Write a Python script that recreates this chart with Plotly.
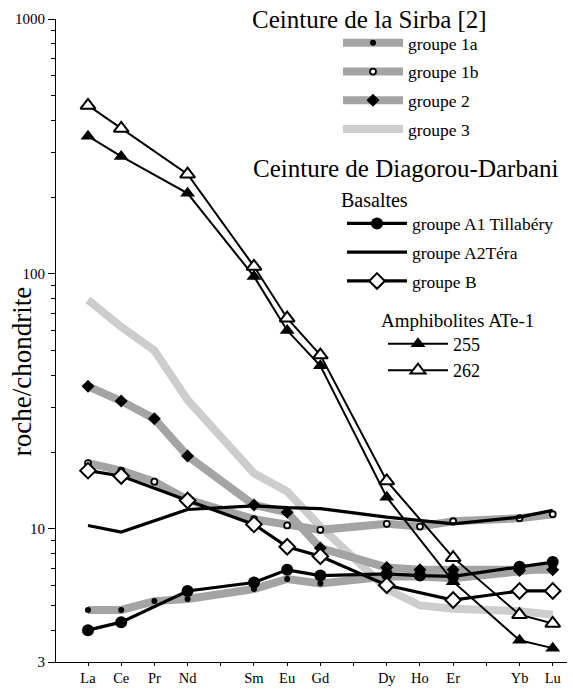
import math
import plotly.graph_objects as go

# ---------------- data ----------------
elements = ["La", "Ce", "Pr", "Nd", "Pm", "Sm", "Eu", "Gd", "Tb", "Dy", "Ho", "Er", "Tm", "Yb", "Lu"]
tick_labels = ["La", "Ce", "Pr", "Nd", "", "Sm", "Eu", "Gd", "", "Dy", "Ho", "Er", "", "Yb", "Lu"]

# Ceinture de la Sirba [2]
g1a_el = ["La", "Ce", "Pr", "Nd", "Sm", "Eu", "Gd", "Dy", "Ho", "Er", "Yb", "Lu"]
g1a_val = [4.8, 4.8, 5.2, 5.3, 5.8, 6.35, 6.1, 6.5, 6.5, 6.4, 6.8, 7.1]

g1b_el = ["La", "Ce", "Pr", "Nd", "Sm", "Eu", "Gd", "Dy", "Ho", "Er", "Yb", "Lu"]
g1b_val = [18.1, 16.9, 15.3, 13.0, 10.9, 10.3, 9.9, 10.45, 10.2, 10.7, 11.0, 11.4]

g2_el = ["La", "Ce", "Pr", "Nd", "Sm", "Eu", "Gd", "Dy", "Ho", "Er", "Yb", "Lu"]
g2_val = [36.2, 31.7, 27.0, 19.3, 12.4, 11.6, 8.4, 7.05, 6.9, 6.9, 6.85, 6.9]

g3_el = ["La", "Ce", "Pr", "Nd", "Sm", "Eu", "Gd", "Dy", "Ho", "Er", "Yb", "Lu"]
g3_val = [79.0, 62.0, 50.0, 32.0, 16.5, 14.0, 10.2, 5.8, 5.0, 4.85, 4.75, 4.6]

# Ceinture de Diagorou-Darbani, Basaltes
a1_el = ["La", "Ce", "Nd", "Sm", "Eu", "Gd", "Dy", "Ho", "Er", "Yb", "Lu"]
a1_val = [4.0, 4.3, 5.7, 6.15, 6.9, 6.55, 6.65, 6.55, 6.5, 7.1, 7.4]

a2_el = ["La", "Ce", "Nd", "Sm", "Eu", "Gd", "Dy", "Er", "Yb", "Lu"]
a2_val = [10.3, 9.7, 11.9, 12.3, 12.1, 12.0, 11.1, 10.45, 11.1, 11.8]

b_el = ["La", "Ce", "Nd", "Sm", "Eu", "Gd", "Dy", "Er", "Yb", "Lu"]
b_val = [16.9, 16.1, 12.9, 10.4, 8.5, 7.8, 6.0, 5.25, 5.7, 5.7]

# Amphibolites ATe-1
s255_el = ["La", "Ce", "Nd", "Sm", "Eu", "Gd", "Dy", "Er", "Yb", "Lu"]
s255_val = [347, 289, 207, 97.7, 60.0, 43.6, 13.3, 6.2, 3.65, 3.4]

s262_el = ["La", "Ce", "Nd", "Sm", "Eu", "Gd", "Dy", "Er", "Yb", "Lu"]
s262_val = [458, 372, 246, 107, 67.0, 48.0, 15.4, 7.7, 4.6, 4.25]

y_ticks = [3, 10, 100, 1000]
y_minor = [4, 5, 6, 7, 8, 9, 20, 30, 40, 50, 60, 70, 80, 90, 200, 300, 400, 500, 600, 700, 800, 900]

# ---------------- style ----------------
SERIF = "Liberation Serif, Times New Roman, serif"
GRAY = "#a4a4a4"
LIGHT = "#cdcdcd"

W, H = 573, 692
ML, MR, MT, MB = 56, 6, 19, 25
PW, PH = W - ML - MR, H - MT - MB


def px(xp):
    return (xp - ML) / PW


def py(yp):
    return (H - MB - yp) / PH


def xs(el):
    return [elements.index(e) for e in el]


fig = go.Figure()


def add(el, val, name, legend, rank, line, marker=None):
    mode = "lines+markers" if marker else "lines"
    fig.add_trace(go.Scatter(
        x=xs(el), y=val, name=name, mode=mode, line=line, marker=marker,
        legend=legend, legendgroup=name, legendrank=rank, hoverinfo="skip",
    ))


add(g3_el, g3_val, "groupe 3", "legend", 4, dict(color=LIGHT, width=8))
add(g1a_el, g1a_val, "groupe 1a", "legend", 1, dict(color=GRAY, width=8),
    dict(symbol="circle", size=6, color="black"))
add(g1b_el, g1b_val, "groupe 1b", "legend", 2, dict(color=GRAY, width=8),
    dict(symbol="circle", size=6, color="white", line=dict(color="black", width=1.8)))
add(g2_el, g2_val, "groupe 2", "legend", 3, dict(color=GRAY, width=8),
    dict(symbol="diamond", size=10, color="black"))

add(a2_el, a2_val, "groupe A2Téra", "legend2", 2, dict(color="black", width=3.2))
add(a1_el, a1_val, "groupe A1 Tillabéry", "legend2", 1, dict(color="black", width=3.2),
    dict(symbol="circle", size=12, color="black"))
add(b_el, b_val, "groupe B", "legend2", 3, dict(color="black", width=3.2),
    dict(symbol="diamond", size=12, color="white", line=dict(color="black", width=2)))

add(s255_el, s255_val, "255", "legend3", 1, dict(color="black", width=2),
    dict(symbol="triangle-up", size=13, color="black"))
add(s262_el, s262_val, "262", "legend3", 2, dict(color="black", width=2),
    dict(symbol="triangle-up", size=13, color="white", line=dict(color="black", width=2)))

legend_common = dict(
    xref="paper", yref="paper", xanchor="left", yanchor="top",
    bgcolor="rgba(0,0,0,0)", borderwidth=0, traceorder="grouped",
    itemwidth=60, tracegroupgap=3, font=dict(family=SERIF, size=17.5, color="black"),
    itemclick=False, itemdoubleclick=False,
)


def note(text, x, y, size, angle=0):
    return dict(text=text, xref="paper", yref="paper", x=px(x), y=py(y), xanchor="center", yanchor="middle",
                textangle=angle, showarrow=False, font=dict(family=SERIF, size=size, color="black"))


fig.update_layout(
    width=W, height=H,
    margin=dict(l=ML, r=MR, t=MT, b=MB),
    paper_bgcolor="white", plot_bgcolor="white",
    font=dict(family=SERIF, color="black"),
    showlegend=True,
    hovermode=False,
    legend=dict(x=px(338), y=py(25), **legend_common),
    legend2=dict(x=px(342), y=py(207), **legend_common),
    legend3=dict(x=px(383), y=py(328), **{**legend_common, "tracegroupgap": 0,
                                          "font": dict(family=SERIF, size=18, color="black")}),
    xaxis=dict(
        range=[-0.964, 14.43], tickmode="array", tickvals=list(range(len(elements))), ticktext=tick_labels,
        ticks="outside", ticklen=3, tickcolor="black", showline=True, linecolor="black", linewidth=1,
        showgrid=False, zeroline=False, tickangle=0, tickfont=dict(family=SERIF, size=14.5, color="black"),
    ),
    yaxis=dict(
        type="log", range=[math.log10(3), 3], tickmode="array", tickvals=y_ticks,
        ticktext=[str(v) for v in y_ticks], ticks="outside", ticklen=7, tickcolor="black",
        showline=True, linecolor="black", linewidth=1, showgrid=False, zeroline=False,
        tickfont=dict(family=SERIF, size=15, color="black"),
        minor=dict(tickmode="array", tickvals=y_minor, ticks="outside", ticklen=4, tickcolor="black", showgrid=False),
    ),
    annotations=[
        note("roche/chondrite", 22, 375, 27, -90),
        note("Ceinture de la Sirba [2]", 369, 20, 25),
        note("Ceinture de Diagorou-Darbani", 405, 170, 25),
        note("Basaltes", 374, 201, 20),
        note("Amphibolites ATe-1", 457, 323, 19),
    ],
)

fig.write_html(
    "out.html",
    config={"displayModeBar": False, "staticPlot": True},
    post_script="document.body.style.margin='0px';document.body.style.overflow='hidden';",
)
